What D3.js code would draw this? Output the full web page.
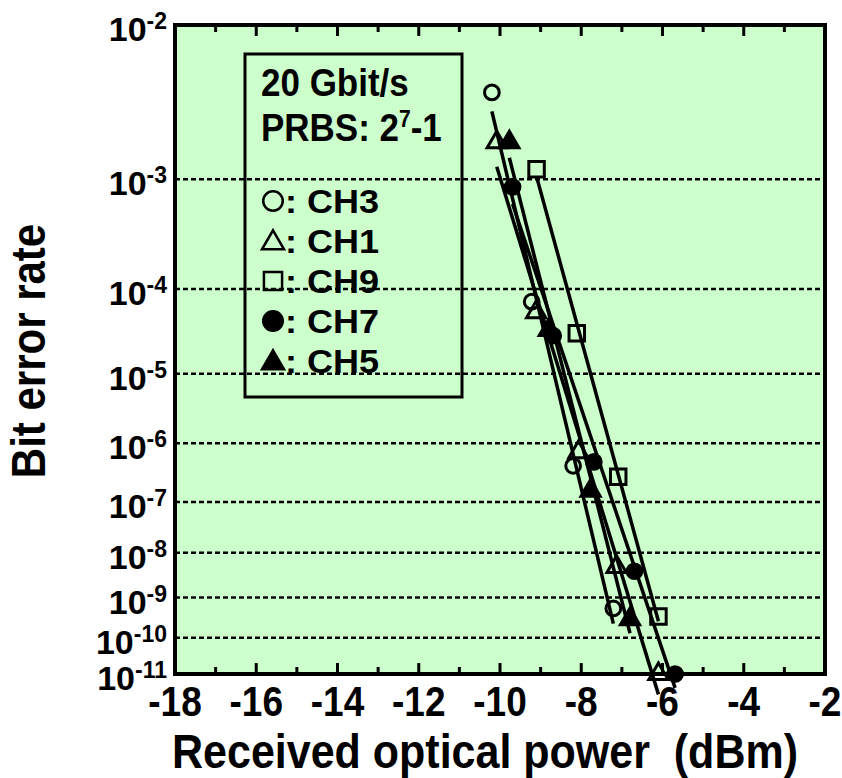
<!DOCTYPE html>
<html>
<head>
<meta charset="utf-8">
<script src="https://cdn.jsdelivr.net/npm/d3@7"></script>
<style>
  body { margin: 0; background: #fff; }
  text { font-family: Arial, "Liberation Sans", sans-serif; font-weight: bold; fill: #000; }
</style>
</head>
<body>
<svg id="chart" width="842" height="778"></svg>
<script>
// channel data, received power (dBm) and bit error rate
var ch3Power = [-10.2, -9.22, -8.2, -7.21];
var ch3Ber   = [4.1e-3, 7.3e-5, 4.3e-7, 5.5e-10];
var ch1Power = [-10.08, -9.11, -8.07, -7.13, -6.1];
var ch1Ber   = [1.9e-3, 5.6e-5, 7.2e-7, 5e-9, 1e-11];
var ch9Power = [-9.1, -8.11, -7.09, -6.1];
var ch9Ber   = [1.2e-3, 3.2e-5, 2.8e-7, 3.5e-10];
var ch7Power = [-9.69, -8.69, -7.69, -6.69, -5.69];
var ch7Ber   = [8.7e-4, 3e-5, 5e-7, 4e-9, 1e-11];
var ch5Power = [-9.77, -8.8, -7.77, -6.8];
var ch5Ber   = [1.9e-3, 3.5e-5, 1.6e-7, 3e-10];

var channelNames = ["CH3", "CH1", "CH9", "CH7", "CH5"];
var xTickValues = [-18, -16, -14, -12, -10, -8, -6, -4, -2];
var yTickExponents = [2, 3, 4, 5, 6, 7, 8, 9, 10, 11];
var legendHeader = ["20 Gbit/s", "PRBS: 2", "7", "-1"];

var series = [
  {name: "CH3", power: ch3Power, ber: ch3Ber, shape: d3.symbolCircle, filled: false},
  {name: "CH1", power: ch1Power, ber: ch1Ber, shape: d3.symbolTriangle, filled: false},
  {name: "CH9", power: ch9Power, ber: ch9Ber, shape: d3.symbolSquare, filled: false},
  {name: "CH7", power: ch7Power, ber: ch7Ber, shape: d3.symbolCircle, filled: true},
  {name: "CH5", power: ch5Power, ber: ch5Ber, shape: d3.symbolTriangle, filled: true}
];

var pLeft = 175, pRight = 825, pTop = 25, pBottom = 674;
var stretch = 1.13; // the original lettering is a bit taller than Arial
var svg = d3.select("#chart");

// BER axis: log(-log(BER))
function berT(b) { return Math.log10(-Math.log10(b)); }

var x = d3.scaleLinear().domain([-18, -2]).range([pLeft, pRight]);
var y = d3.scaleLinear().domain([berT(1e-2), berT(1e-11)]).range([pTop, pBottom]);

function place(px, py, sy) {
  return "translate(" + px + "," + py + ") scale(1," + (sy || stretch) + ")";
}

function symbolSize(shape, big) {
  if (shape === d3.symbolCircle) return big ? 300 : 170;
  if (shape === d3.symbolSquare) return big ? 330 : 240;
  return big ? 210 : 160;
}

svg.append("rect")
  .attr("x", pLeft).attr("y", pTop)
  .attr("width", pRight - pLeft).attr("height", pBottom - pTop)
  .attr("fill", "#ccffcc");

// dashed grid
svg.append("g").selectAll("line")
  .data(yTickExponents.slice(1, -1))
  .join("line")
  .attr("x1", pLeft).attr("x2", pRight)
  .attr("y1", function(d) { return y(berT(Math.pow(10, -d))); })
  .attr("y2", function(d) { return y(berT(Math.pow(10, -d))); })
  .attr("stroke", "#000").attr("stroke-width", 2.5)
  .attr("stroke-dasharray", "5,3");

// ticks on top and bottom, inward
var minorTicks = d3.range(-17, -2, 1);
[pBottom, pTop].forEach(function(edge) {
  var dir = edge === pBottom ? -1 : 1;
  svg.append("g").selectAll("line")
    .data(minorTicks)
    .join("line")
    .attr("x1", function(d) { return x(d); })
    .attr("x2", function(d) { return x(d); })
    .attr("y1", edge)
    .attr("y2", function(d) { return edge + dir * (d % 2 === 0 ? 11 : 7); })
    .attr("stroke", "#000").attr("stroke-width", 3);
});

// fit lines in transformed space
series.forEach(function(s) {
  var pts = s.power.map(function(p, i) { return [p, berT(s.ber[i])]; });
  var mx = d3.mean(pts, function(d) { return d[0]; });
  var my = d3.mean(pts, function(d) { return d[1]; });
  var sxy = d3.sum(pts, function(d) { return (d[0] - mx) * (d[1] - my); });
  var sxx = d3.sum(pts, function(d) { return (d[0] - mx) * (d[0] - mx); });
  var k = sxy / sxx;
  var x0 = d3.min(s.power), x1 = d3.max(s.power);
  svg.append("line")
    .attr("x1", x(x0)).attr("y1", y(my + k * (x0 - mx)))
    .attr("x2", x(x1)).attr("y2", y(my + k * (x1 - mx)))
    .attr("stroke", "#000").attr("stroke-width", 3.5);
});

// frame
svg.append("rect")
  .attr("x", pLeft).attr("y", pTop)
  .attr("width", pRight - pLeft).attr("height", pBottom - pTop)
  .attr("fill", "none").attr("stroke", "#000").attr("stroke-width", 4);

// markers
series.forEach(function(s) {
  svg.append("g").selectAll("path")
    .data(s.power.map(function(p, i) { return [p, s.ber[i]]; }))
    .join("path")
    .attr("transform", function(d) { return "translate(" + x(d[0]) + "," + y(berT(d[1])) + ")"; })
    .attr("d", d3.symbol().type(s.shape).size(symbolSize(s.shape, false)))
    .attr("fill", s.filled ? "#000" : "none")
    .attr("stroke", "#000").attr("stroke-width", 3);
});

// y tick labels
var yLab = svg.append("g").selectAll("text")
  .data(yTickExponents)
  .join("text")
  .attr("transform", function(d) { return place(167, y(berT(Math.pow(10, -d))) + 16, 1); })
  .attr("text-anchor", "end")
  .attr("font-size", 34);
yLab.append("tspan").text("10");
yLab.append("tspan").attr("dy", -12).attr("font-size", 23)
  .text(function(d) { return "-" + d; });

// x tick labels
svg.append("g").selectAll("text")
  .data(xTickValues)
  .join("text")
  .attr("transform", function(d) { return place(x(d), 716); })
  .attr("text-anchor", "middle")
  .attr("font-size", 37)
  .text(function(d) { return d; });

// axis titles
svg.append("text")
  .attr("transform", "translate(45,351) rotate(-90) scale(1," + stretch + ")")
  .attr("text-anchor", "middle")
  .attr("font-size", 42)
  .text("Bit error rate");

svg.append("text")
  .attr("transform", place(485, 768))
  .attr("text-anchor", "middle")
  .attr("font-size", 43)
  .style("white-space", "pre")
  .text("Received optical power  (dBm)");

// legend
var lg = svg.append("g");
lg.append("rect")
  .attr("x", 245).attr("y", 54).attr("width", 217).attr("height", 343)
  .attr("fill", "none").attr("stroke", "#000").attr("stroke-width", 3);

lg.append("text").attr("transform", place(261, 96)).attr("font-size", 35).text(legendHeader[0]);
var prbs = lg.append("text").attr("transform", place(261, 141)).attr("font-size", 35);
prbs.append("tspan").text(legendHeader[1]);
prbs.append("tspan").attr("dy", -12).attr("font-size", 21).text(legendHeader[2]);
prbs.append("tspan").attr("dy", 12).text(legendHeader[3]);

var rowY = d3.scalePoint().domain(channelNames).range([201, 361]);
series.forEach(function(s) {
  var cy = rowY(s.name);
  lg.append("path")
    .attr("transform", "translate(273," + (cy + (s.shape === d3.symbolTriangle ? 2 : 0)) + ")")
    .attr("d", d3.symbol().type(s.shape).size(symbolSize(s.shape, true)))
    .attr("fill", s.filled ? "#000" : "none")
    .attr("stroke", "#000").attr("stroke-width", 2.5);
  lg.append("text")
    .attr("transform", "translate(285," + (cy + 12) + ") scale(1.06,1)")
    .attr("font-size", 34)
    .text(": " + s.name);
});
</script>
</body>
</html>
